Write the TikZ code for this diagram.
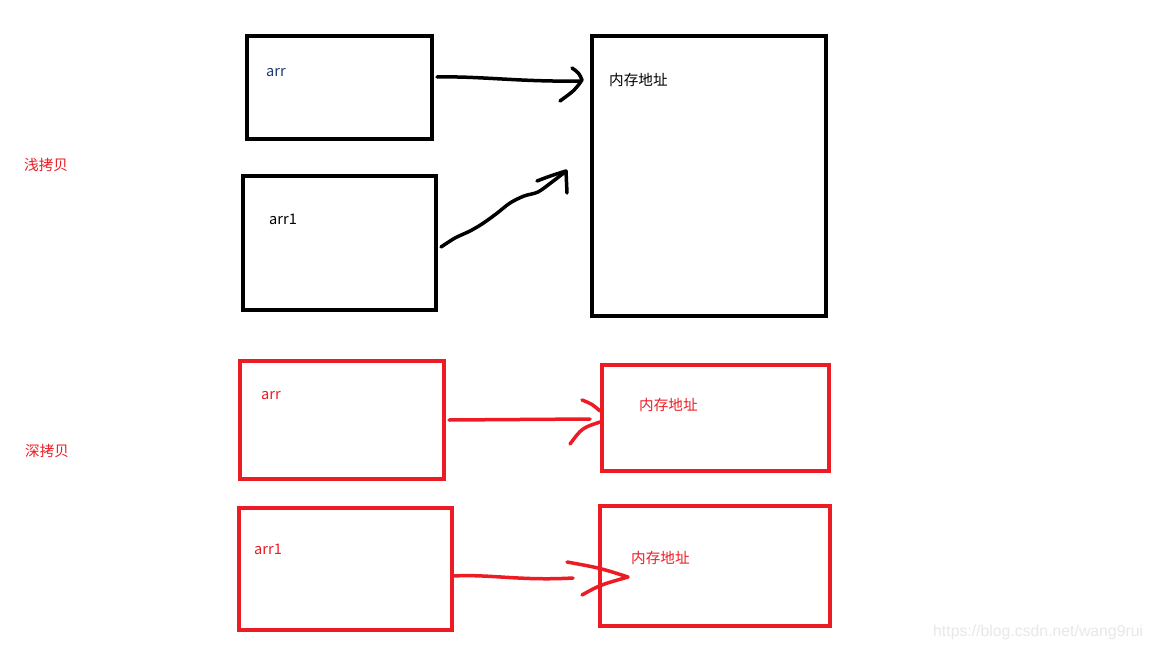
\documentclass[tikz,border=0pt]{standalone}
\usepackage{fontspec}
\setmainfont{Noto Sans CJK SC}
\newfontfamily\wmfont{Liberation Sans}
\definecolor{pred}{HTML}{ED1C24}
\definecolor{navy}{HTML}{1F3A78}
\definecolor{wm}{HTML}{E8E8E8}
\begin{document}
\begin{tikzpicture}[x=1pt,y=-1pt,
  bbox/.style={draw=black,line width=4pt,inner sep=0pt},
  rbox/.style={draw=pred,line width=4pt,inner sep=0pt},
  lbl/.style={anchor=west,inner sep=0pt,yshift=-1.5pt,font=\fontsize{14.6}{17}\selectfont},
  stroke/.style={line width=3.5pt,line cap=round,line join=round}]
\useasboundingbox[fill=white] (0,0) rectangle (1152,648);
% black boxes
\node[bbox,minimum width=185pt,minimum height=103pt] (a) at (339.5,87.5) {};
\node[bbox,minimum width=193pt,minimum height=134pt] (a1) at (339.5,243) {};
\node[bbox,minimum width=234pt,minimum height=280pt] (m) at (709,176) {};
% red boxes
\node[rbox,minimum width=204pt,minimum height=118pt] (ra) at (342,420) {};
\node[rbox,minimum width=227pt,minimum height=106pt] (rm) at (715.5,418) {};
\node[rbox,minimum width=213pt,minimum height=122pt] (ra1) at (345.5,569) {};
\node[rbox,minimum width=230pt,minimum height=120pt] (rm1) at (715,566) {};
% labels
\node[lbl,text=navy] (ta) at (266,71) {arr};
\node[lbl,text=black] (ta1) at (269,218) {arr1};
\node[lbl,text=black] (tm) at (609,78) {内存地址};
\node[lbl,text=pred] (tq) at (24,163) {浅拷贝};
\node[lbl,text=pred] (ts) at (25,449) {深拷贝};
\node[lbl,text=pred] (tra) at (261,394) {arr};
\node[lbl,text=pred] (trm) at (639,403) {内存地址};
\node[lbl,text=pred] (tra1) at (254,548) {arr1};
\node[lbl,text=pred] (trm1) at (631,556) {内存地址};
\node[lbl,text=wm,font=\fontsize{15.8}{18}\wmfont] (wmk) at (933,631) {https://blog.csdn.net/wang9rui};
% arrow 1 (black, straight)
\coordinate (s1) at (437,77);
\coordinate (e1) at (580,81);
\draw[stroke] (s1) .. controls (480,76) and (520,82) .. (e1);
\draw[stroke] (572,68) .. controls (579,73) .. (582,80) .. controls (575,90) .. (560,101);
% arrow 2 (black, wavy)
\coordinate (s2) at (441,247);
\coordinate (e2) at (565,172);
\draw[stroke] plot[smooth,tension=0.5] coordinates {(441,247) (455,238) (470,231) (482,224) (496,214) (510,203) (524,196) (538,192) (552,182) (565,172)};
\draw[stroke] (537,181) .. controls (550,176) .. (566,171) -- (567,193);
% arrow 3 (red)
\coordinate (s3) at (449,420);
\coordinate (e3) at (590,419);
\draw[stroke,draw=pred] (s3) -- (e3);
\draw[stroke,draw=pred] (582,400) .. controls (592,404) .. (600,411);
\draw[stroke,draw=pred] (600,422) .. controls (582,428) .. (570,444);
% arrow 4 (red)
\coordinate (s4) at (453,576);
\coordinate (e4) at (573,578);
\draw[stroke,draw=pred] (s4) .. controls (490,574) and (520,581) .. (e4);
\draw[stroke,draw=pred] (567,562) .. controls (600,568) .. (628,577) .. controls (600,585) .. (582,595);
\end{tikzpicture}
\end{document}
